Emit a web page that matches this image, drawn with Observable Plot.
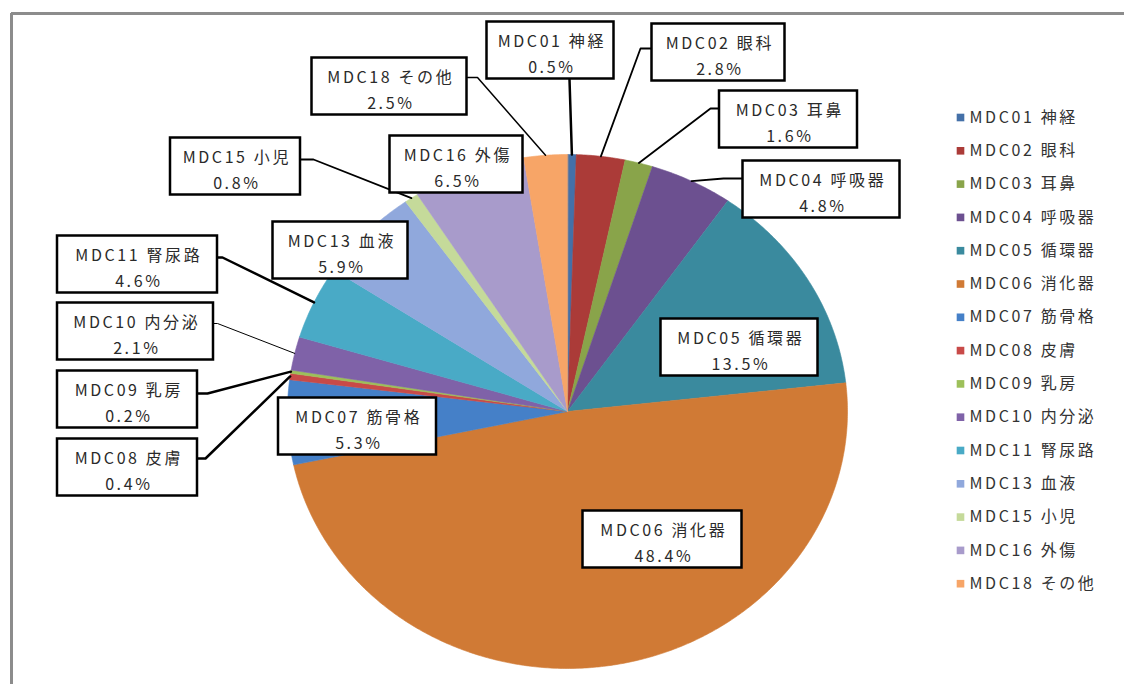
<!DOCTYPE html>
<html>
<head>
<meta charset="utf-8">
<script src="https://cdn.jsdelivr.net/npm/d3@7"></script>
<script src="https://cdn.jsdelivr.net/npm/@observablehq/plot@0.6"></script>
<style>
  html, body { margin: 0; padding: 0; background: #fff; overflow: hidden; }
  #chart svg { font-family: "Noto Sans CJK JP", "Noto Sans", sans-serif; letter-spacing: 2.6px; }
</style>
</head>
<body>
<div id="chart"></div>
<script>
// ---- data ----
const categories = ["MDC01 神経", "MDC02 眼科", "MDC03 耳鼻", "MDC04 呼吸器", "MDC05 循環器",
  "MDC06 消化器", "MDC07 筋骨格", "MDC08 皮膚", "MDC09 乳房", "MDC10 内分泌",
  "MDC11 腎尿路", "MDC13 血液", "MDC15 小児", "MDC16 外傷", "MDC18 その他"];
const shares = [0.5, 2.8, 1.6, 4.8, 13.5, 48.4, 5.3, 0.4, 0.2, 2.1, 4.6, 5.9, 0.8, 6.5, 2.5];
const colors = ["#4470a8", "#ab3b38", "#89a44a", "#6c5090", "#3a8a9e", "#d07a35", "#4580c8",
  "#c84a48", "#9dc05a", "#7f62a8", "#49aac6", "#90a8dc", "#c5da9a", "#a89bcb", "#f7a567"];

// ---- layout (label box centers / widths, leader anchor + elbow) ----
const boxCX = [550, 718, 788, 821, 739, 662, 357, 127, 127, 135, 137, 340, 235, 456, 389];
const boxCY = [50, 52, 119, 189, 347, 539, 426, 467, 399, 331, 264, 250, 166, 164, 86];
const boxW  = [127, 133, 138, 157, 157, 159, 158, 140, 140, 156, 160, 135, 130, 133, 155];
const leaders = [
  {i: 0, pts: [[569, 79]], w: 2.5},
  {i: 1, pts: [[652, 48], [640, 48]], w: 1.8},
  {i: 2, pts: [[719, 108], [710, 108]], w: 1.8},
  {i: 3, pts: [[743, 178], [723, 178]], w: 1.8},
  {i: 7, pts: [[197, 458], [205, 458]], w: 2.5},
  {i: 8, pts: [[197, 393], [207, 393]], w: 2.5},
  {i: 9, pts: [[213, 323], [217, 323]], w: 1},
  {i: 10, pts: [[217, 257], [222, 257]], w: 2.5},
  {i: 12, pts: [[300, 159], [313, 159]], w: 1.8},
  {i: 14, pts: [[467, 77], [477, 77]], w: 1.5}
];
const cx = 567, cy = 411, rx = 280, ry = 257, boxH = 57;

// ---- derived geometry ----
const arcs = d3.pie().sort(null).value(d => d)(shares);
const slicePts = [];
arcs.forEach((a, i) => {
  slicePts.push({name: categories[i], x: cx, y: cy});
  const n = Math.max(2, Math.ceil((a.endAngle - a.startAngle) / (Math.PI / 360)));
  for (let k = 0; k <= n; k++) {
    const t = a.startAngle + (a.endAngle - a.startAngle) * k / n;
    slicePts.push({name: categories[i], x: cx + rx * Math.sin(t), y: cy - ry * Math.cos(t)});
  }
});
const leaderPts = [];
leaders.forEach(L => {
  const a = arcs[L.i];
  const m = (a.startAngle + a.endAngle) / 2;
  L.pts.forEach(p => leaderPts.push({id: L.i, w: L.w, x: p[0], y: p[1]}));
  leaderPts.push({id: L.i, w: L.w, x: cx + rx * Math.sin(m), y: cy - ry * Math.cos(m)});
});
const labels = categories.map((c, i) => ({
  name: c, pct: shares[i].toFixed(1) + "%",
  x1: boxCX[i] - boxW[i] / 2, x2: boxCX[i] + boxW[i] / 2,
  y1: boxCY[i] - boxH / 2, y2: boxCY[i] + boxH / 2, cx: boxCX[i], cy: boxCY[i]
}));

const chart = Plot.plot({
  width: 1124, height: 684, margin: 0,
  x: {domain: [0, 1124], range: [0, 1124], axis: null},
  y: {domain: [0, 684], range: [0, 684], axis: null},
  color: {domain: categories, range: colors},
  marks: [
    // outer chart border (top & left visible)
    Plot.ruleY([13], {x1: 11, x2: 1124, stroke: "#8c8c8c", strokeWidth: 3}),
    Plot.ruleX([11], {y1: 13, y2: 684, stroke: "#8c8c8c", strokeWidth: 3}),
    // pie slices
    Plot.line(slicePts, {x: "x", y: "y", z: "name", fill: "name", stroke: "name", strokeWidth: 0.6, curve: "linear-closed"}),
    // leader lines
    ...[2.5, 1.8, 1.5, 1].map(w => Plot.line(leaderPts.filter(d => d.w === w),
      {x: "x", y: "y", z: "id", stroke: "#000", strokeWidth: w})),
    // label boxes
    Plot.rect(labels, {x1: "x1", x2: "x2", y1: "y1", y2: "y2", fill: "white", stroke: "#000", strokeWidth: 2.5}),
    Plot.text(labels, {x: "cx", y: d => d.cy + 1, text: d => d.name + "\n" + d.pct,
      fontSize: 16, lineHeight: 1.62, fill: "#2a2a2a", dx: 1.3}),
    // legend
    Plot.dot(categories, {x: () => 960, y: (d, i) => 117 + i * 33.3, symbol: "square", fill: d => d, r: 4.3}),
    Plot.text(categories, {x: () => 969, y: (d, i) => 117 + i * 33.3, text: d => d,
      textAnchor: "start", fontSize: 16, fill: "#333"})
  ]
});
document.getElementById("chart").appendChild(chart);
</script>
</body>
</html>
